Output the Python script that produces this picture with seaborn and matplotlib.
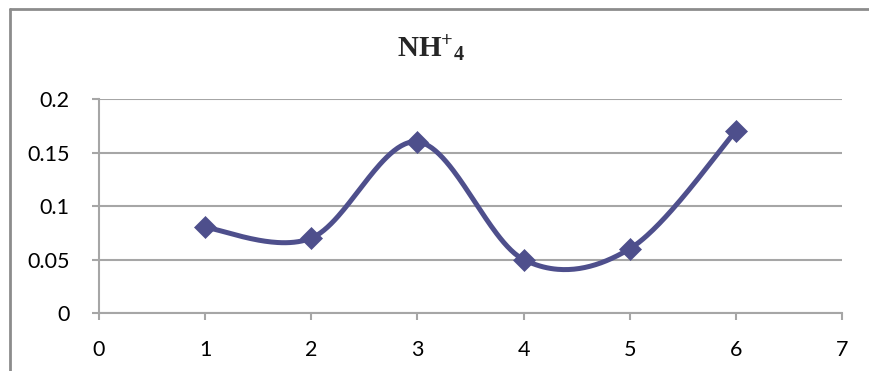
import numpy as np
import pandas as pd
import matplotlib
matplotlib.use("Agg")
import matplotlib.pyplot as plt
from matplotlib.lines import Line2D
import seaborn as sns

# Sample number and NH4+ concentration
sample = [1, 2, 3, 4, 5, 6]
nh4 = [0.08, 0.07, 0.16, 0.05, 0.06, 0.17]
x_ticks = [0, 1, 2, 3, 4, 5, 6, 7]
y_ticks = [0, 0.05, 0.1, 0.15, 0.2]
y_tick_labels = ["0", "0.05", "0.1", "0.15", "0.2"]

LINE_COLOR = "#4E4F8C"
GRID_COLOR = "#A6A6A6"


def smooth_curve(xs, ys, n=60):
    """Cubic Bezier smoothing through all points (Catmull-Rom style tangents)."""
    pts = np.column_stack([xs, ys]).astype(float)
    out = []
    m = len(pts)
    for i in range(m - 1):
        p0 = pts[i]
        p3 = pts[i + 1]
        prev = pts[i - 1] if i > 0 else pts[i]
        nxt = pts[i + 2] if i + 2 < m else pts[i + 1]
        c1 = p0 + (p3 - prev) / 6.0
        c2 = p3 - (nxt - p0) / 6.0
        t = np.linspace(0, 1, n)[:, None]
        seg = ((1 - t) ** 3) * p0 + 3 * ((1 - t) ** 2) * t * c1 \
            + 3 * (1 - t) * t ** 2 * c2 + t ** 3 * p3
        out.append(seg if i == 0 else seg[1:])
    return np.vstack(out)


sns.set_theme(style="white")
plt.rcParams["font.family"] = ["Lato", "DejaVu Sans"]
plt.rcParams["mathtext.fontset"] = "custom"
plt.rcParams["mathtext.rm"] = "Liberation Serif"
plt.rcParams["mathtext.bf"] = "Liberation Serif:bold"

fig = plt.figure(figsize=(8.69, 3.71), dpi=100)
ax = fig.add_axes([99 / 869, 1 - 313 / 371, (842 - 99) / 869, (313 - 99) / 371])

curve = smooth_curve(sample, nh4)
curve_df = pd.DataFrame({"sample": curve[:, 0], "nh4": curve[:, 1]})
points_df = pd.DataFrame({"sample": sample, "nh4": nh4})

sns.lineplot(data=curve_df, x="sample", y="nh4", sort=False, ax=ax,
             color=LINE_COLOR, linewidth=3.6, zorder=3)
sns.scatterplot(data=points_df, x="sample", y="nh4", ax=ax, marker="D",
                s=125, color=LINE_COLOR, edgecolor=LINE_COLOR, linewidth=0.5,
                zorder=4)

ax.set_xlim(0, 7)
ax.set_ylim(0, 0.2)
ax.set_xticks(x_ticks)
ax.set_yticks(y_ticks)
ax.set_yticklabels(y_tick_labels)
ax.set_xlabel("")
ax.set_ylabel("")

ax.yaxis.grid(True, color=GRID_COLOR, linewidth=1.5)
ax.xaxis.grid(False)
ax.set_axisbelow(True)

for side in ["top", "right"]:
    ax.spines[side].set_visible(False)
for side in ["left", "bottom"]:
    ax.spines[side].set_color(GRID_COLOR)
    ax.spines[side].set_linewidth(1.5)

ax.tick_params(axis="both", which="major", length=5, width=1.5,
               color=GRID_COLOR, labelsize=15.5, labelcolor="#000000")
ax.tick_params(axis="y", direction="out", pad=16, left=True)
ax.tick_params(axis="x", direction="out", pad=14.5, bottom=True)
ax.patch.set_alpha(0)

fig.text(431 / 869, 1 - 49 / 371, r"$\mathbf{NH^{+}{}_{4}}$",
         ha="center", va="center", fontsize=21)

# Chart area border (top and left edges)
frame_kw = dict(color="#8C8C8C", linewidth=2.0, transform=fig.transFigure)
fig.add_artist(Line2D([9.5 / 869, 1.0], [1 - 8.5 / 371, 1 - 8.5 / 371], **frame_kw))
fig.add_artist(Line2D([9.5 / 869, 9.5 / 869], [0.0, 1 - 8.5 / 371], **frame_kw))

fig.savefig("out.png", dpi=100)
